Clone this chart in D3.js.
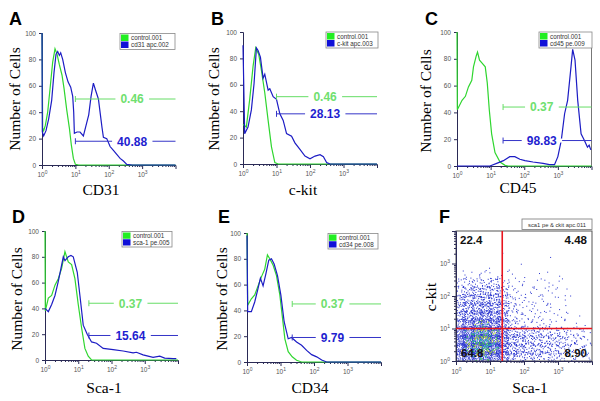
<!DOCTYPE html>
<html><head><meta charset="utf-8">
<script src="https://cdn.jsdelivr.net/npm/d3@7"></script>
<style>body{margin:0;background:#fff}svg{display:block}</style>
</head><body>
<svg id="chart" width="600" height="401"></svg>
<script>
// ---------------- DATA ----------------
const panelLetters = ["A","B","C","D","E","F"];
const xTitles = ["CD31","c-kit","CD45","Sca-1","CD34","Sca-1"];
const yTitles = ["Number of Cells","Number of Cells","Number of Cells","Number of Cells","Number of Cells","c-kit"];
const legendControl = "control.001";
const legendSamples = ["cd31 apc.002","c-kit apc.003","cd45 pe.009","sca-1 pe.005","cd34 pe.008"];
const scatterLegend = "sca1 pe & ckit apc.011";
const countTicks = [0,20,40,60,80,100];
const decadeTicks = [0,1,2,3];
const controlPct = ["0.46","0.46","0.37","0.37","0.37"];
const samplePct = ["40.88","28.13","98.83","15.64","9.79"];
const controlGateLevel = [50,51,44,44,45];
const sampleGateLevel = [18,38,19,19,19];
const gateStart = [1.0,1.0,1.37,1.32,1.35];      // log10 intensity
const gateLabelAt = [2.7,2.45,2.52,2.57,2.55];   // log10 intensity

// histogram curves: [log10 intensity, % of max]
const controlA = [[0,100],[0.02,28],[0.05,26],[0.1,30],[0.17,40],[0.25,60],[0.32,78],[0.39,88],[0.45,84],[0.52,76],[0.6,68],[0.66,58],[0.74,42],[0.82,28],[0.88,15],[0.94,5],[1.0,0.5],[1.1,0],[4,0]];
const sampleA = [[0,100],[0.01,25],[0.05,22],[0.12,26],[0.2,35],[0.29,49],[0.36,70],[0.42,84],[0.47,86],[0.52,83],[0.56,85],[0.62,80],[0.7,70],[0.78,63],[0.86,59],[0.92,52],[0.95,40],[0.97,24],[1.05,25],[1.14,25],[1.24,22],[1.32,30],[1.4,38],[1.47,52],[1.54,62],[1.6,57],[1.69,50],[1.75,38],[1.8,28],[1.84,21],[1.94,20],[2.04,14],[2.14,11],[2.24,8],[2.34,5],[2.44,3],[2.54,0.5],[2.7,0],[4,0]];
const controlB = [[0,30],[0.1,28],[0.2,49],[0.3,74],[0.38,88],[0.47,83],[0.55,71],[0.65,54],[0.75,33],[0.85,13],[0.95,1],[1.05,0],[4,0]];
const sampleB = [[0,90],[0.05,23],[0.15,28],[0.25,41],[0.33,61],[0.4,88],[0.45,86],[0.52,81],[0.6,65],[0.65,68],[0.75,56],[0.8,57],[0.9,51],[1.0,49],[1.1,38],[1.2,33],[1.3,23],[1.45,21],[1.55,16],[1.7,11],[1.85,6],[2.0,4],[2.15,6],[2.3,7],[2.4,5.5],[2.5,1],[2.6,0],[4,0]];
const controlC = [[0,100],[0.01,42],[0.15,49],[0.25,52],[0.34,59],[0.44,64],[0.49,74],[0.57,82],[0.61,85],[0.67,79],[0.74,77],[0.84,74],[0.9,62],[0.96,42],[1.03,24],[1.13,10],[1.28,3],[1.43,0.5],[1.52,0],[4,0]];
const sampleC = [[0,0],[0.98,0],[1.18,2],[1.38,4],[1.57,7],[1.72,7],[1.87,5],[2.02,4],[2.26,3],[2.56,2],[2.75,1],[2.9,1],[3.0,7],[3.1,19],[3.2,39],[3.29,49],[3.39,74],[3.44,87],[3.51,79],[3.59,49],[3.69,24],[3.79,19],[3.88,14],[3.93,15.5],[3.98,12]];
const controlD = [[0,100],[0.01,38],[0.1,48],[0.2,50],[0.3,58],[0.4,63],[0.5,71],[0.6,84],[0.7,76],[0.8,74],[0.9,63],[1.0,43],[1.1,25],[1.2,9],[1.3,3],[1.4,0],[4,0]];
const sampleD = [[0,40],[0.1,37.5],[0.2,43],[0.3,50],[0.4,61],[0.48,71],[0.55,80],[0.6,77],[0.7,80],[0.78,81],[0.85,80],[0.97,68],[1.05,50],[1.15,27],[1.27,20],[1.4,14],[1.55,13],[1.75,9],[2.05,8],[2.35,7],[2.65,5.5],[2.75,6],[2.95,4],[3.25,2],[3.45,3],[3.6,1.5],[3.85,1],[3.95,1]];
const controlE = [[0,100],[0.02,44],[0.13,49],[0.23,52],[0.33,59],[0.43,66],[0.53,72],[0.61,83],[0.68,80],[0.78,75],[0.88,67],[0.98,52],[1.06,34],[1.13,18],[1.23,8],[1.35,4],[1.48,1.3],[1.63,0],[4,0]];
const sampleE = [[0,98],[0.02,39],[0.13,39],[0.23,46.5],[0.33,57],[0.4,65],[0.48,59],[0.56,68],[0.65,79],[0.73,80],[0.81,76],[0.91,67],[1.01,52],[1.11,31],[1.23,18],[1.33,19],[1.48,15.5],[1.63,13],[1.78,9],[1.93,5.7],[2.08,4],[2.23,1.5],[2.38,0],[4,0]];
const controlCurves = [controlA,controlB,controlC,controlD,controlE];
const sampleCurves = [sampleA,sampleB,sampleC,sampleD,sampleE];

// scatter (panel F): dots per 0.25-decade cell, rows from top (c-kit 3.75-4) to bottom (0-0.25), cols Sca-1 0..4
const scatterDensity = [
 [0,0,0,0,0,0,0,0,0,0,0,0,0,0,0,0],
 [0,0,0,0,0,0,0,0,0,0,0,0,0,0,0,0],
 [0,0,0,0,0,1,0,0,0,0,0,0,0,0,0,0],
 [0,0,0,0,0,0,0,0,0,0,0,1,0,0,0,0],
 [0,1,0,0,1,0,0,1,0,0,0,0,0,0,0,0],
 [2,3,3,4,4,3,2,1,1,1,1,2,1,0,0,0],
 [9,11,13,15,13,10,4,2,2,2,2,3,1,0,0,0],
 [16,20,22,24,22,17,6,3,3,3,3,3,1,1,0,0],
 [22,26,28,30,28,22,8,4,4,3,3,2,1,1,0,0],
 [26,30,34,36,32,26,9,5,4,4,3,2,2,1,0,0],
 [32,36,40,42,38,30,10,6,5,4,3,3,2,1,1,0],
 [40,46,52,54,48,36,13,8,6,5,4,3,2,2,1,1],
 [56,62,68,70,64,44,26,21,19,17,16,14,12,9,7,5],
 [62,68,74,76,70,46,28,23,21,19,18,16,13,11,8,6],
 [62,68,74,76,70,46,28,23,21,19,18,16,14,12,9,8],
 [56,62,68,68,62,44,26,22,20,18,17,15,13,12,9,8]
];
// bright core cells: [col, row-from-bottom, dots]
const scatterCore = [[2,4,4],[3,4,6],[1,3,6],[2,3,12],[3,3,14],[4,3,8],[1,2,8],[2,2,18],[3,2,20],[4,2,10],[1,1,6],[2,1,16],[3,1,18],[4,1,8],[2,0,6],[3,0,8]];
const quadrantPct = ["22.4","4.48","64.8","8.90"];
const quadrantGate = [1.36, 1.0];

// ---------------- LAYOUT ----------------
const histLayout = [
 {x0:42,  x1:175.5, yT:33,  yB:165, legend:[120,33.5,55,16], letter:[9,25],   xt:[101,195], yt:[20,99]},
 {x0:243, x1:377,   yT:32,  yB:164, legend:[326,32,52,16],   letter:[211,25], xt:[303,195], yt:[219,99]},
 {x0:457, x1:591.5, yT:32,  yB:166, legend:[539,32,53,16],   letter:[425,25], xt:[518,193], yt:[431,101]},
 {x0:45,  x1:178,   yT:231, yB:360, legend:[122,231.5,50,15.5], letter:[12,223], xt:[104,393], yt:[22,299]},
 {x0:247, x1:381,   yT:233, yB:362, legend:[328,233.5,50,15.5], letter:[218,223], xt:[310,393], yt:[227,299]}
];
const GREEN = "#2fd62f", BLUE = "#1c1cc4", GREEN_T = "#6fe06f", BLUE_T = "#1f1fd0";
const SANS = "'Liberation Sans', Arial, sans-serif", SERIF = "'Liberation Serif', 'Times New Roman', serif";

const svg = d3.select("#chart");
const minorVals = [];
for (let d = 0; d < 4; d++) for (let k = 2; k <= 9; k++) minorVals.push(d + Math.log10(k));

function decadeAxis(g, axisFn, scale, major){
  const a = axisFn(scale).tickValues(decadeTicks).tickSize(4).tickPadding(major).tickFormat(() => "10");
  g.call(a);
  g.selectAll(".tick text").attr("font-size", 6.5).attr("fill", "#555").attr("font-family", SANS)
    .append("tspan").attr("dy", -3).attr("font-size", 5).text(d => d);
}
function minorAxis(g, axisFn, scale){
  g.call(axisFn(scale).tickValues(minorVals).tickSize(2).tickFormat(""));
  g.select(".domain").remove();
}
function styleAxis(g){
  g.selectAll(".domain").attr("stroke", "#2a2a55");
  g.selectAll(".tick line").attr("stroke", "#2a2a55");
}

histLayout.forEach((L, i) => {
  const xs = d3.scaleLinear().domain([0, 4]).range([L.x0, L.x1]);
  const ys = d3.scaleLinear().domain([0, 100]).range([L.yB, L.yT]);
  const g = svg.append("g");

  const ya = g.append("g").attr("transform", `translate(${L.x0},0)`)
    .call(d3.axisLeft(ys).tickValues(countTicks).tickSize(3).tickPadding(3));
  ya.selectAll(".tick text").attr("font-size", 6.5).attr("fill", "#555").attr("font-family", SANS);
  styleAxis(ya);
  const xa = g.append("g").attr("transform", `translate(0,${L.yB})`);
  decadeAxis(xa, d3.axisBottom, xs, 3.5);
  styleAxis(xa);
  const xm = g.append("g").attr("transform", `translate(0,${L.yB})`);
  minorAxis(xm, d3.axisBottom, xs); styleAxis(xm);
  if (i === 2) g.append("line").attr("x1", L.x1).attr("x2", L.x1).attr("y1", L.legend[1]+L.legend[3]).attr("y2", L.yB).attr("stroke", "#777");

  const line = d3.line().x(d => xs(d[0])).y(d => ys(d[1]));
  g.append("path").datum(controlCurves[i]).attr("d", line).attr("fill", "none").attr("stroke", GREEN).attr("stroke-width", 1.2);
  g.append("path").datum(sampleCurves[i]).attr("d", line).attr("fill", "none").attr("stroke", BLUE).attr("stroke-width", 1.2);

  [[controlGateLevel[i], controlPct[i], GREEN_T, "#66dd66"], [sampleGateLevel[i], samplePct[i], BLUE_T, "#3535c8"]].forEach(([lvl, txt, tc, lc]) => {
    const y = ys(lvl);
    g.append("line").attr("x1", xs(gateStart[i])).attr("x2", xs(4)).attr("y1", y).attr("y2", y).attr("stroke", lc).attr("stroke-width", 1);
    g.append("line").attr("x1", xs(gateStart[i])).attr("x2", xs(gateStart[i])).attr("y1", y-3).attr("y2", y+3).attr("stroke", lc).attr("stroke-width", 1);
    const t = g.append("text").attr("x", xs(gateLabelAt[i])).attr("y", y + 4.3).attr("text-anchor", "middle")
      .attr("font-family", SANS).attr("font-weight", "bold").attr("font-size", 12).attr("fill", tc).text(txt);
    const bb = t.node().getBBox();
    g.insert("rect", () => t.node()).attr("x", bb.x - 5).attr("y", y - 2).attr("width", bb.width + 10).attr("height", 4).attr("fill", "#fff");
  });

  const [lx, ly, lw, lh] = L.legend;
  const lg = g.append("g");
  lg.append("rect").attr("x", lx).attr("y", ly).attr("width", lw).attr("height", lh).attr("fill", "#fff").attr("stroke", "#888").attr("stroke-width", 0.8);
  [[GREEN, legendControl], [BLUE, legendSamples[i]]].forEach(([c, t], k) => {
    const ry = ly + 1 + k * (lh - 2) / 2;
    lg.append("rect").attr("x", lx + 1).attr("y", ry).attr("width", 7.5).attr("height", (lh - 2) / 2 - 0.5).attr("fill", c === GREEN ? "#22ee22" : "#1010d8");
    lg.append("text").attr("x", lx + 11).attr("y", ry + 5.6).attr("font-family", SANS).attr("font-size", 6.3).attr("fill", "#333").text(t);
  });

  g.append("text").attr("x", L.letter[0]).attr("y", L.letter[1]).attr("font-family", SANS).attr("font-weight", "bold").attr("font-size", 18).text(panelLetters[i]);
  g.append("text").attr("x", L.xt[0]).attr("y", L.xt[1]).attr("text-anchor", "middle").attr("font-family", SERIF).attr("font-size", 15.5).text(xTitles[i]);
  g.append("text").attr("transform", `translate(${L.yt[0]},${L.yt[1]}) rotate(-90)`).attr("text-anchor", "middle").attr("font-family", SERIF).attr("font-size", 15.5).text(yTitles[i]);
});

// ---------------- PANEL F (scatter) ----------------
(function(){
  const L = {x0:456, x1:592, yT:231, yB:361};
  const xs = d3.scaleLinear().domain([0, 4]).range([L.x0, L.x1]);
  const ys = d3.scaleLinear().domain([0, 4]).range([L.yB, L.yT]);
  const g = svg.append("g");
  g.append("defs").append("clipPath").attr("id", "fclip").append("rect")
    .attr("x", L.x0).attr("y", L.yT).attr("width", L.x1 - L.x0).attr("height", L.yB - L.yT);

  function halton(i, b){ let f = 1, r = 0; while (i > 0){ f /= b; r += f * (i % b); i = Math.floor(i / b);} return r; }
  let counter = 1;
  const dots = [];
  const nRows = scatterDensity.length;
  scatterDensity.forEach((row, r) => {
    const yb = nRows - 1 - r;
    row.forEach((n, c) => {
      for (let k = 0; k < n; k++, counter++){
        dots.push({x: c * 0.25 - 0.06 + 0.37 * halton(counter, 2), y: yb * 0.25 - 0.06 + 0.37 * halton(counter, 3), core: false});
      }
    });
  });
  scatterCore.forEach(([c, yb, n]) => {
    for (let k = 0; k < n; k++, counter++){
      dots.push({x: c * 0.25 + 0.25 * halton(counter, 2), y: yb * 0.25 + 0.25 * halton(counter, 3), core: true, k});
    }
  });
  const dg = g.append("g").attr("clip-path", "url(#fclip)");
  dg.selectAll("rect.dot").data(dots).join("rect").attr("class", "dot")
    .attr("x", d => xs(d.x) - 0.5).attr("y", d => ys(d.y) - 0.5)
    .attr("width", d => d.core ? 1.3 : 1).attr("height", d => d.core ? 1.3 : 1)
    .attr("fill", d => d.core ? (d.k % 3 === 0 ? "#b9e23c" : (d.k % 3 === 1 ? "#3cc84c" : "#2bb4b0")) : "#2a35cf");

  g.append("rect").attr("x", L.x0).attr("y", L.yT).attr("width", L.x1 - L.x0).attr("height", L.yB - L.yT).attr("fill", "none").attr("stroke", "#555").attr("stroke-width", 1);
  const xa = g.append("g").attr("transform", `translate(0,${L.yB})`);
  decadeAxis(xa, d3.axisBottom, xs, 4.5); styleAxis(xa);
  const xm = g.append("g").attr("transform", `translate(0,${L.yB})`); minorAxis(xm, d3.axisBottom, xs); styleAxis(xm);
  const ya = g.append("g").attr("transform", `translate(${L.x0},0)`);
  decadeAxis(ya, d3.axisLeft, ys, 2); styleAxis(ya);
  const ym = g.append("g").attr("transform", `translate(${L.x0},0)`); minorAxis(ym, d3.axisLeft, ys); styleAxis(ym);

  g.append("line").attr("x1", xs(quadrantGate[0])).attr("x2", xs(quadrantGate[0])).attr("y1", L.yT).attr("y2", L.yB).attr("stroke", "#e8141e").attr("stroke-width", 1.6);
  g.append("line").attr("x1", L.x0).attr("x2", L.x1).attr("y1", ys(quadrantGate[1])).attr("y2", ys(quadrantGate[1])).attr("stroke", "#e8141e").attr("stroke-width", 1.6);
  const qpos = [[L.x0 + 4, L.yT + 13, "start"], [L.x1 - 5, L.yT + 13, "end"], [L.x0 + 5, L.yB - 4, "start"], [L.x1 - 5, L.yB - 4, "end"]];
  quadrantPct.forEach((t, k) => {
    g.append("text").attr("x", qpos[k][0]).attr("y", qpos[k][1]).attr("text-anchor", qpos[k][2])
      .attr("font-family", SANS).attr("font-weight", "bold").attr("font-size", 11.5).attr("fill", "#111").text(t);
  });

  g.append("rect").attr("x", 522).attr("y", 219).attr("width", 70).attr("height", 10.5).attr("fill", "#fff").attr("stroke", "#777").attr("stroke-width", 0.8);
  g.append("text").attr("x", 557).attr("y", 226.5).attr("text-anchor", "middle").attr("font-family", SANS).attr("font-size", 5.8).attr("fill", "#333").text(scatterLegend);

  g.append("text").attr("x", 439).attr("y", 223).attr("font-family", SANS).attr("font-weight", "bold").attr("font-size", 18).text(panelLetters[5]);
  g.append("text").attr("x", 530).attr("y", 393).attr("text-anchor", "middle").attr("font-family", SERIF).attr("font-size", 15.5).text(xTitles[5]);
  g.append("text").attr("transform", "translate(436,297) rotate(-90)").attr("text-anchor", "middle").attr("font-family", SERIF).attr("font-size", 15.5).text(yTitles[5]);
})();
</script>
</body></html>
